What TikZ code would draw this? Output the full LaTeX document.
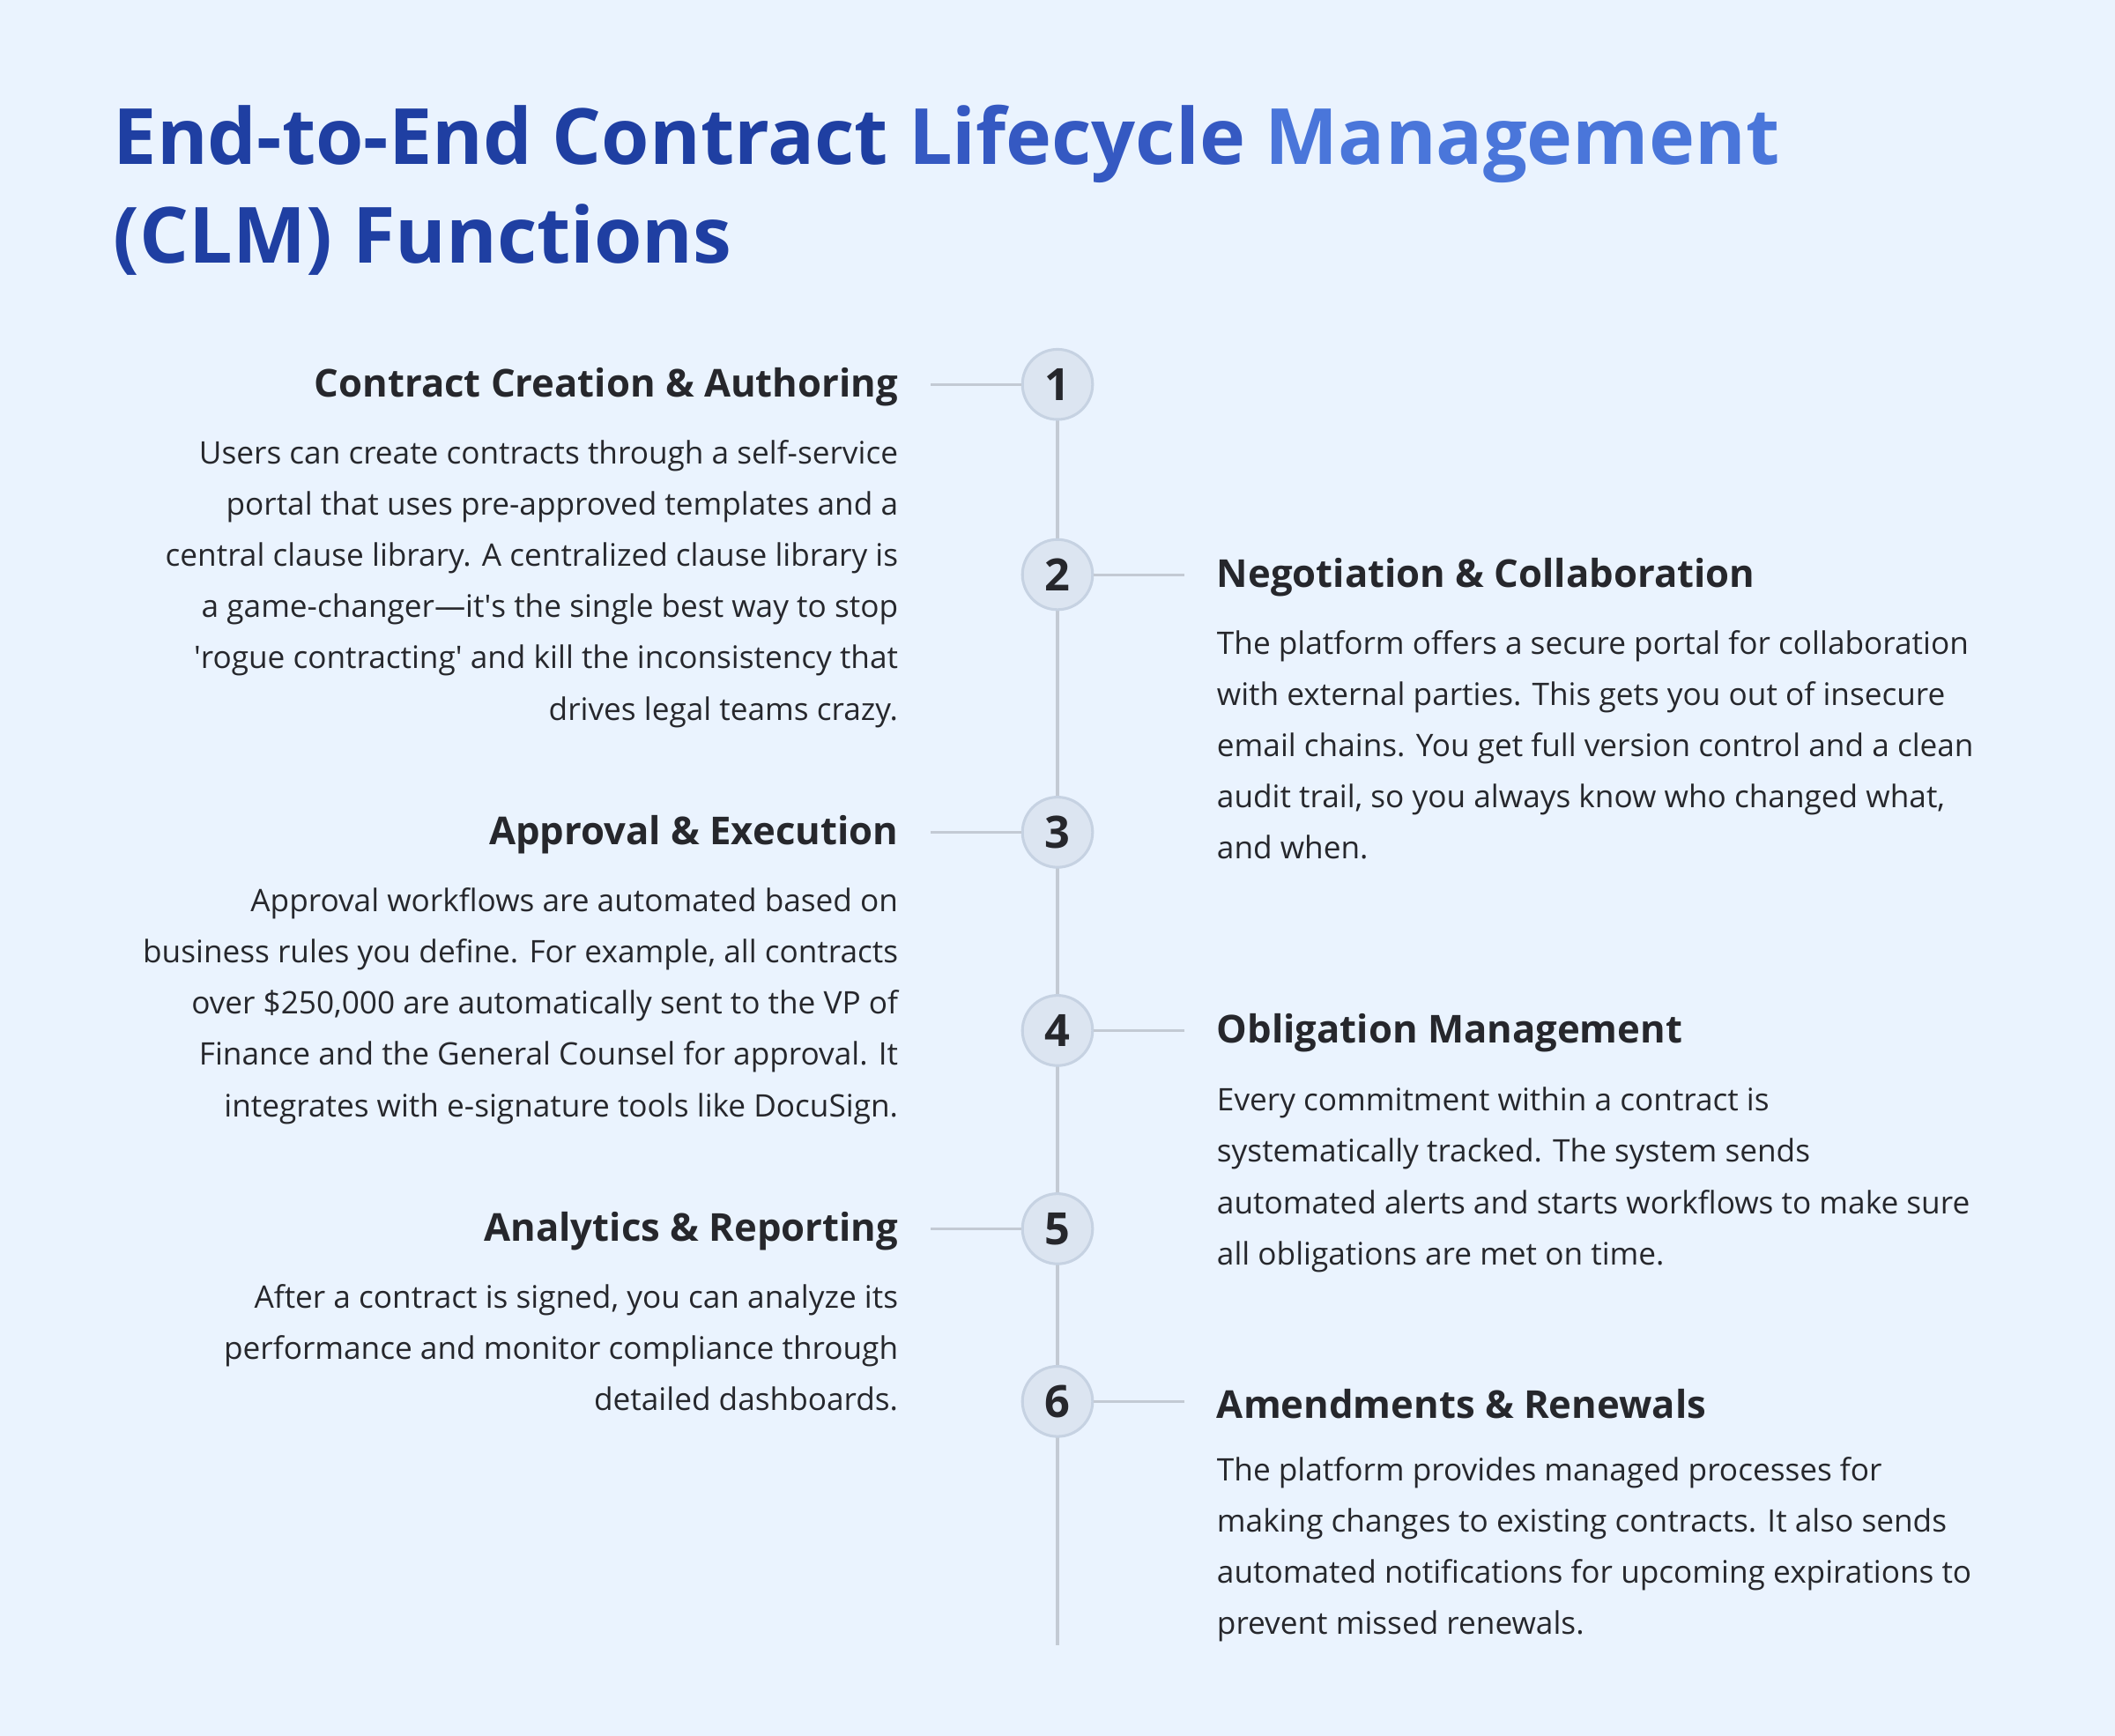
\documentclass[tikz,border=0pt]{standalone}
\usepackage{fontspec}
\setmainfont{Open Sans}
\usetikzlibrary{positioning}
\definecolor{bgblue}{HTML}{EAF3FE}
\definecolor{titleA}{HTML}{1F3FA2}
\definecolor{titleB}{HTML}{3559C2}
\definecolor{titleC}{HTML}{4A76DA}
\definecolor{inkdark}{HTML}{26272C}
\definecolor{linegray}{HTML}{C3CAD4}
\definecolor{dotfill}{HTML}{DCE5F1}
\definecolor{dotedge}{HTML}{C6D2E2}

\begin{document}
\begin{tikzpicture}[x=1pt,y=-1pt,
    heading/.style={inner sep=0pt,font=\fontsize{28.5}{36}\selectfont\bfseries,text=inkdark},
    bodyleft/.style={inner sep=0pt,anchor=north east,align=right,font=\fontsize{23}{38}\selectfont,text=inkdark},
    bodyright/.style={inner sep=0pt,anchor=north west,align=left,font=\fontsize{23}{38}\selectfont,text=inkdark},
    stepdot/.style={circle,draw=dotedge,line width=2pt,fill=dotfill,minimum size=52pt,inner sep=0pt,font=\fontsize{33}{36}\selectfont\bfseries,text=inkdark},
    tick/.style={draw=linegray,line width=2pt}]

  \fill[bgblue] (0,0) rectangle (1568,1287);
  \useasboundingbox (0,0) rectangle (1568,1287);

  % title
  \node[anchor=base west,inner sep=0pt,font=\fontsize{57.5}{70}\selectfont\bfseries] (title1) at (84,122)
    {\textcolor{titleA}{End-to-End Contract} \textcolor{titleB}{Lifecycle} \textcolor{titleC}{Management}};
  \node[anchor=base west,inner sep=0pt,font=\fontsize{57.5}{70}\selectfont\bfseries,text=titleA] (title2) at (84,195)
    {(CLM) Functions};

  % timeline
  \coordinate (top) at (784,285);
  \coordinate (bottom) at (784,1220);
  \draw[tick] (top) -- (bottom);

  \foreach \n/\y in {1/285,2/426,3/617,4/764,5/911,6/1039}
    \node[stepdot] (s\n) at (784,\y) {\n};

  % left column
  \node[heading,anchor=east] (h1) at (666,287) {Contract Creation \& Authoring};
  \node[bodyleft] (b1) at (666,326) {Users can create contracts through a self-service\\portal that uses pre-approved templates and a\\central clause library. A centralized clause library is\\a game-changer---it\textquotesingle s the single best way to stop\\\textquotesingle rogue contracting\textquotesingle{} and kill the inconsistency that\\drives legal teams crazy.};

  \node[heading,anchor=east] (h3) at (666,619) {Approval \& Execution};
  \node[bodyleft] (b3) at (666,658) {Approval workflows are automated based on\\business rules you define. For example, all contracts\\over \$250,000 are automatically sent to the VP of\\Finance and the General Counsel for approval. It\\integrates with e-signature tools like DocuSign.};

  \node[heading,anchor=east] (h5) at (666,913) {Analytics \& Reporting};
  \node[bodyleft] (b5) at (666,952) {After a contract is signed, you can analyze its\\performance and monitor compliance through\\detailed dashboards.};

  % right column
  \node[heading,anchor=west] (h2) at (902,428) {Negotiation \& Collaboration};
  \node[bodyright] (b2) at (902,467) {The platform offers a secure portal for collaboration\\with external parties. This gets you out of insecure\\email chains. You get full version control and a clean\\audit trail, so you always know who changed what,\\and when.};

  \node[heading,anchor=west] (h4) at (902,766) {Obligation Management};
  \node[bodyright] (b4) at (902,806) {Every commitment within a contract is\\systematically tracked. The system sends\\automated alerts and starts workflows to make sure\\all obligations are met on time.};

  \node[heading,anchor=west] (h6) at (902,1041) {Amendments \& Renewals};
  \node[bodyright] (b6) at (902,1080) {The platform provides managed processes for\\making changes to existing contracts. It also sends\\automated notifications for upcoming expirations to\\prevent missed renewals.};

  % connectors
  \draw[tick] (690,285) -- (s1.west);
  \draw[tick] (690,617) -- (s3.west);
  \draw[tick] (690,911) -- (s5.west);
  \draw[tick] (s2.east) -- (878,426);
  \draw[tick] (s4.east) -- (878,764);
  \draw[tick] (s6.east) -- (878,1039);
\end{tikzpicture}
\end{document}
